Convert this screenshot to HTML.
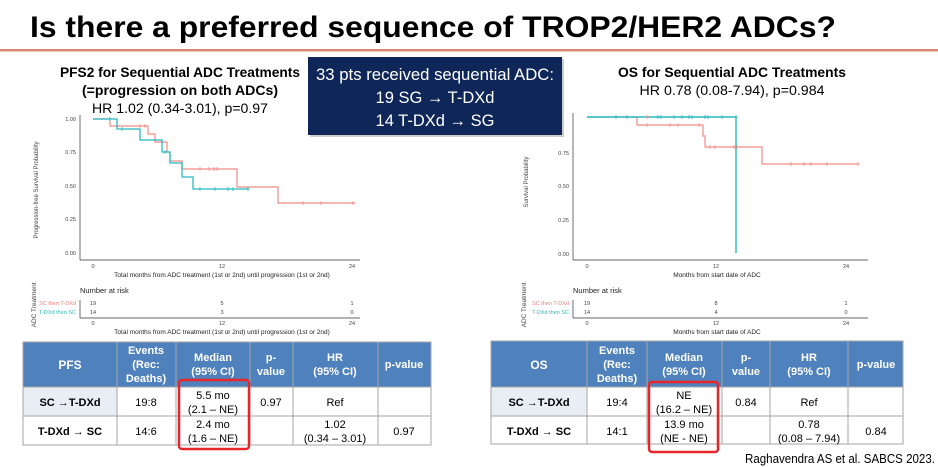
<!DOCTYPE html>
<html><head><meta charset="utf-8"><style>
html,body{margin:0;padding:0;background:#fff;}
svg{display:block;font-family:"Liberation Sans",sans-serif;}
</style></head><body>
<svg width="938" height="467" viewBox="0 0 938 467" xmlns="http://www.w3.org/2000/svg">
<text x="30" y="37" font-size="30" font-weight="bold" fill="#000" textLength="806" lengthAdjust="spacingAndGlyphs">Is there a preferred sequence of TROP2/HER2 ADCs?</text>
<rect x="0" y="49" width="938" height="2.5" fill="#d98a6e"/>

<g font-size="13.5" text-anchor="middle" fill="#000">
<text x="180" y="77" font-weight="bold" textLength="240" lengthAdjust="spacingAndGlyphs">PFS2 for Sequential ADC Treatments</text>
<text x="180" y="95" font-weight="bold" textLength="196" lengthAdjust="spacingAndGlyphs">(=progression on both ADCs)</text>
<text x="180" y="113" textLength="176" lengthAdjust="spacingAndGlyphs">HR 1.02 (0.34-3.01), p=0.97</text>
<text x="732" y="77" font-weight="bold" textLength="228" lengthAdjust="spacingAndGlyphs">OS for Sequential ADC Treatments</text>
<text x="732" y="95" textLength="185" lengthAdjust="spacingAndGlyphs">HR 0.78 (0.08-7.94), p=0.984</text>
</g>

<rect x="310" y="59" width="254" height="78" fill="#999" opacity="0.5"/>
<rect x="308" y="57" width="254" height="78" fill="#0f2659"/>
<g font-size="16.5" fill="#fff" text-anchor="middle">
<text x="435" y="80" textLength="238" lengthAdjust="spacingAndGlyphs">33 pts received sequential ADC:</text>
<text x="435" y="103">19 SG → T-DXd</text>
<text x="435" y="126">14 T-DXd → SG</text>
</g>

<!-- Left plot -->
<g font-size="5.5" fill="#444">
<line x1="80" y1="115" x2="80" y2="260" stroke="#333" stroke-width="0.7"/>
<line x1="80" y1="260" x2="360" y2="260" stroke="#333" stroke-width="0.7"/>
<text x="76" y="121" text-anchor="end">1.00</text>
<text x="76" y="154" text-anchor="end">0.75</text>
<text x="76" y="188" text-anchor="end">0.50</text>
<text x="76" y="221" text-anchor="end">0.25</text>
<text x="76" y="255" text-anchor="end">0.00</text>
<text x="93" y="268" text-anchor="middle">0</text>
<text x="222" y="268" text-anchor="middle">12</text>
<text x="352" y="268" text-anchor="middle">24</text>
<text x="222" y="277" text-anchor="middle" font-size="6.5" fill="#222">Total months from ADC treatment (1st or 2nd) until progression (1st or 2nd)</text>
<text transform="translate(38,190) rotate(-90)" text-anchor="middle" font-size="6">Progression-free Survival Probability</text>
<text x="80" y="293" font-size="7.5" fill="#222">Number at risk</text>
<text x="76" y="305" text-anchor="end" fill="#e8837a">SC then T-DXd</text>
<text x="76" y="314" text-anchor="end" fill="#2bb8c0">T-DXd then SC</text>
<line x1="80" y1="300" x2="80" y2="318" stroke="#333" stroke-width="0.7"/>
<line x1="80" y1="318" x2="360" y2="318" stroke="#333" stroke-width="0.7"/>
<text x="93" y="305" text-anchor="middle">19</text><text x="222" y="305" text-anchor="middle">5</text><text x="352" y="305" text-anchor="middle">1</text>
<text x="93" y="314" text-anchor="middle">14</text><text x="222" y="314" text-anchor="middle">3</text><text x="352" y="314" text-anchor="middle">0</text>
<text x="93" y="325" text-anchor="middle">0</text><text x="222" y="325" text-anchor="middle">12</text><text x="352" y="325" text-anchor="middle">24</text>
<text x="222" y="334" text-anchor="middle" font-size="6.5" fill="#222">Total months from ADC treatment (1st or 2nd) until progression (1st or 2nd)</text>
<text transform="translate(36,305) rotate(-90)" text-anchor="middle" font-size="6.5">ADC Treatment</text>
</g>
<polyline fill="none" stroke="#ee8c84" stroke-width="1.2" points="93,119 110,119 110,126 148,126 148,134 155,134 155,142 167,142 167,152 170,152 170,161 182,161 182,169 237,169 237,187 278,187 278,203 355,203"/>
<polyline fill="none" stroke="#28b9c2" stroke-width="1.3" points="93,119 117,119 117,129 140,129 140,140 162,140 162,152 170,152 170,163 182,163 182,177 193,177 193,189 248,189"/>
<g stroke="#ee8c84" stroke-width="0.8">
<path d="M140,124v4M138,126h4M145,124v4M143,126h4M200,167v4M198,169h4M209,167v4M207,169h4M214,167v4M212,169h4M217,167v4M215,169h4M303,201v4M301,203h4M321,201v4M319,203h4M353,201v4M351,203h4"/>
</g>
<g stroke="#28b9c2" stroke-width="0.8">
<path d="M110,117v4M108,119h4M122,127v4M120,129h4M165,150v4M163,152h4M200,187v4M198,189h4M215,187v4M213,189h4M228,187v4M226,189h4M233,187v4M231,189h4M248,187v4M246,189h4"/>
</g>

<!-- Right plot -->
<g font-size="5.5" fill="#444">
<line x1="573" y1="113" x2="573" y2="260" stroke="#333" stroke-width="0.7"/>
<line x1="573" y1="260" x2="868" y2="260" stroke="#333" stroke-width="0.7"/>
<text x="569" y="155" text-anchor="end">0.75</text>
<text x="569" y="188" text-anchor="end">0.50</text>
<text x="569" y="222" text-anchor="end">0.25</text>
<text x="569" y="256" text-anchor="end">0.00</text>
<text x="587" y="268" text-anchor="middle">0</text>
<text x="716" y="268" text-anchor="middle">12</text>
<text x="846" y="268" text-anchor="middle">24</text>
<text x="717" y="277" text-anchor="middle" font-size="6.5" fill="#222">Months from start date of ADC</text>
<text transform="translate(528,182) rotate(-90)" text-anchor="middle" font-size="6">Survival Probability</text>
<text x="573" y="293" font-size="7.5" fill="#222">Number at risk</text>
<text x="569" y="305" text-anchor="end" fill="#e8837a">SC then T-DXd</text>
<text x="569" y="314" text-anchor="end" fill="#2bb8c0">T-DXd then SC</text>
<line x1="573" y1="300" x2="573" y2="318" stroke="#333" stroke-width="0.7"/>
<line x1="573" y1="318" x2="868" y2="318" stroke="#333" stroke-width="0.7"/>
<text x="587" y="305" text-anchor="middle">19</text><text x="716" y="305" text-anchor="middle">8</text><text x="846" y="305" text-anchor="middle">1</text>
<text x="587" y="314" text-anchor="middle">14</text><text x="716" y="314" text-anchor="middle">4</text><text x="846" y="314" text-anchor="middle">0</text>
<text x="587" y="325" text-anchor="middle">0</text><text x="716" y="325" text-anchor="middle">12</text><text x="846" y="325" text-anchor="middle">24</text>
<text x="717" y="334" text-anchor="middle" font-size="6.5" fill="#222">Months from start date of ADC</text>
<text transform="translate(526,305) rotate(-90)" text-anchor="middle" font-size="6.5">ADC Treatment</text>
</g>
<polyline fill="none" stroke="#ee8c84" stroke-width="1.2" points="587,117 637,117 637,125 703,125 703,136 705,136 705,147 762,147 762,164 858,164"/>
<polyline fill="none" stroke="#28b9c2" stroke-width="1.4" points="587,117 736,117 736,253"/>
<g stroke="#ee8c84" stroke-width="0.8">
<path d="M647,115v4M645,117h4M647,123v4M645,125h4M670,123v4M668,125h4M678,123v4M676,125h4M699,123v4M697,125h4M710,145v4M708,147h4M715,145v4M713,147h4M734,145v4M732,147h4M737,145v4M735,147h4M791,162v4M789,164h4M804,162v4M802,164h4M811,162v4M809,164h4M827,162v4M825,164h4M858,162v4M856,164h4"/>
</g>
<g stroke="#28b9c2" stroke-width="0.8">
<path d="M616,115v4M614,117h4M627,115v4M625,117h4M658,115v4M656,117h4M661,115v4M659,117h4M674,115v4M672,117h4M682,115v4M680,117h4M689,115v4M687,117h4M692,115v4M690,117h4M705,115v4M703,117h4M708,115v4M706,117h4M722,115v4M720,117h4M736,115v4M734,117h4"/>
</g>

<!-- Left table -->
<g font-size="11" text-anchor="middle">
<rect x="23" y="342" width="408" height="45" fill="#4f81bd"/>
<rect x="23" y="387" width="94" height="29" fill="#e9edf4"/>
<g stroke="#a6a6a6" stroke-width="1" fill="none">
<rect x="23" y="342" width="408" height="103"/>
<line x1="23" y1="387" x2="431" y2="387"/><line x1="23" y1="416" x2="431" y2="416"/>
<path d="M117,342V445M176,342V445M250,342V445M293,342V445M378,342V445"/>
</g>
<g fill="#fff" font-weight="bold">
<text x="70" y="369" font-size="12">PFS</text>
<text x="146" y="354">Events</text><text x="146" y="368">(Rec:</text><text x="146" y="382">Deaths)</text>
<text x="213" y="361">Median</text><text x="213" y="375">(95% CI)</text>
<text x="271" y="361">p-</text><text x="271" y="375">value</text>
<text x="335" y="361">HR</text><text x="335" y="375">(95% CI)</text>
<text x="404" y="368">p-value</text>
</g>
<g fill="#000">
<text x="70" y="406" font-weight="bold">SC →T-DXd</text>
<text x="146" y="406">19:8</text>
<text x="213" y="399">5.5 mo</text><text x="213" y="413">(2.1 – NE)</text>
<text x="271" y="406">0.97</text>
<text x="335" y="406">Ref</text>
<text x="70" y="435" font-weight="bold">T-DXd → SC</text>
<text x="146" y="435">14:6</text>
<text x="213" y="428">2.4 mo</text><text x="213" y="442">(1.6 – NE)</text>
<text x="335" y="428">1.02</text><text x="335" y="442">(0.34 – 3.01)</text>
<text x="404" y="435">0.97</text>
</g>
<rect x="179" y="380" width="70" height="69" rx="3" fill="none" stroke="#e8262a" stroke-width="2.5"/>
</g>

<!-- Right table -->
<g font-size="11" text-anchor="middle">
<rect x="491" y="341" width="412" height="46" fill="#4f81bd"/>
<rect x="491" y="387" width="96" height="29" fill="#e9edf4"/>
<g stroke="#a6a6a6" stroke-width="1" fill="none">
<rect x="491" y="341" width="412" height="103"/>
<line x1="491" y1="387" x2="903" y2="387"/><line x1="491" y1="416" x2="903" y2="416"/>
<path d="M587,341V444M647,341V444M722,341V444M770,341V444M848,341V444"/>
</g>
<g fill="#fff" font-weight="bold">
<text x="539" y="369" font-size="12">OS</text>
<text x="617" y="354">Events</text><text x="617" y="368">(Rec:</text><text x="617" y="382">Deaths)</text>
<text x="684" y="361">Median</text><text x="684" y="375">(95% CI)</text>
<text x="746" y="361">p-</text><text x="746" y="375">value</text>
<text x="809" y="361">HR</text><text x="809" y="375">(95% CI)</text>
<text x="876" y="368">p-value</text>
</g>
<g fill="#000">
<text x="539" y="406" font-weight="bold">SC →T-DXd</text>
<text x="617" y="406">19:4</text>
<text x="684" y="399">NE</text><text x="684" y="413">(16.2 – NE)</text>
<text x="746" y="406">0.84</text>
<text x="809" y="406">Ref</text>
<text x="539" y="435" font-weight="bold">T-DXd → SC</text>
<text x="617" y="435">14:1</text>
<text x="684" y="428">13.9 mo</text><text x="684" y="442">(NE - NE)</text>
<text x="809" y="428">0.78</text><text x="809" y="442">(0.08 – 7.94)</text>
<text x="876" y="435">0.84</text>
</g>
<rect x="649" y="382" width="69" height="70" rx="3" fill="none" stroke="#e8262a" stroke-width="2.5"/>
</g>

<text x="935" y="463" font-size="12.5" text-anchor="end" fill="#000" textLength="190" lengthAdjust="spacingAndGlyphs">Raghavendra AS et al. SABCS 2023.</text>
</svg>
</body></html>
